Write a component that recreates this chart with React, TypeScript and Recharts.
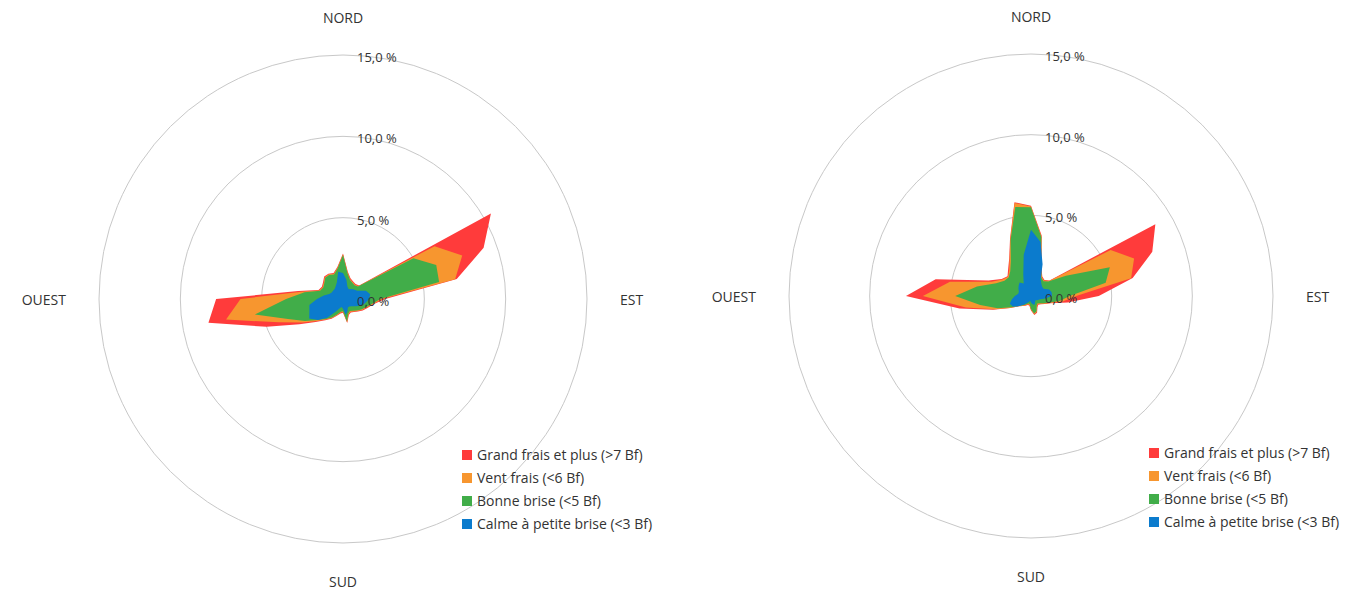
import React from "react";
import {
  RadarChart,
  PolarGrid,
  PolarAngleAxis,
  PolarRadiusAxis,
  Radar,
  Legend,
} from "recharts";

// 36 directions, every 10 degrees, clockwise from north
const directions = [
  0, 10, 20, 30, 40, 50, 60, 70, 80, 90, 100, 110, 120, 130, 140, 150, 160, 170,
  180, 190, 200, 210, 220, 230, 240, 250, 260, 270, 280, 290, 300, 310, 320, 330, 340, 350,
];
const cardinals: Record<number, string> = { 0: "NORD", 90: "EST", 180: "SUD", 270: "OUEST" };
const radiusTicks = [0, 5, 10, 15];

const seriesNames = [
  "Grand frais et plus (>7 Bf)",
  "Vent frais (<6 Bf)",
  "Bonne brise (<5 Bf)",
  "Calme à petite brise (<3 Bf)",
];
const seriesColors = ["#ff3b3b", "#f7962f", "#41ad49", "#0b7bcd"];
const seriesKeys = ["gf", "vf", "bb", "cb"];

// left rose, cumulative frequency (%)
const leftGrandFrais = [
  2.8, 1.7, 1.35, 1.25, 1.2, 1.3, 10.5, 9.2, 7.1, 2.6, 1.9, 1.6, 1.4, 1.2, 1.05, 0.95, 1.05, 1.5,
  0.85, 0.9, 1.1, 1.4, 1.7, 2.2, 3.1, 5.0, 8.4, 7.8, 2.8, 1.6, 1.5, 1.6, 1.8, 1.8, 1.7, 2.0,
];
const leftVentFrais = [
  2.75, 1.65, 1.3, 1.2, 1.15, 1.25, 6.5, 7.8, 7.0, 2.4, 1.85, 1.55, 1.35, 1.15, 1.0, 0.9, 1.0, 1.45,
  0.8, 0.85, 1.05, 1.35, 1.65, 2.1, 2.9, 4.2, 7.3, 6.3, 2.6, 1.55, 1.45, 1.55, 1.75, 1.75, 1.65, 1.95,
];
const leftBonneBrise = [
  2.7, 1.6, 1.25, 1.15, 1.1, 1.2, 5.0, 6.1, 6.0, 2.3, 1.8, 1.5, 1.3, 1.1, 0.95, 0.85, 0.95, 1.4,
  0.75, 0.8, 1.0, 1.3, 1.6, 2.0, 2.7, 3.6, 5.5, 3.5, 2.4, 1.5, 1.4, 1.5, 1.7, 1.7, 1.6, 1.9,
];
const leftCalme = [
  1.6, 1.2, 0.8, 0.7, 0.8, 0.9, 1.0, 1.5, 1.7, 1.6, 1.4, 1.2, 0.9, 0.7, 0.6, 0.6, 0.8, 1.0,
  0.6, 0.5, 0.6, 0.9, 1.5, 2.0, 2.4, 2.2, 2.1, 1.6, 1.2, 0.9, 0.8, 0.8, 0.8, 0.9, 1.1, 1.7,
];

// right rose, cumulative frequency (%)
const rightGrandFrais = [
  5.6, 3.8, 1.9, 1.4, 1.3, 1.5, 8.9, 8.0, 6.4, 4.2, 2.3, 1.3, 1.0, 0.8, 0.7, 0.8, 1.1, 1.2,
  0.9, 0.6, 0.6, 0.7, 0.8, 1.0, 1.5, 2.5, 4.5, 7.75, 6.0, 2.8, 2.1, 1.9, 2.2, 2.7, 3.8, 5.9,
];
const rightVentFrais = [
  5.55, 3.75, 1.85, 1.35, 1.25, 1.45, 5.7, 6.8, 6.3, 2.8, 2.0, 1.25, 0.95, 0.75, 0.65, 0.75, 1.05, 1.15,
  0.85, 0.55, 0.55, 0.65, 0.8, 1.0, 1.5, 2.4, 4.1, 6.7, 5.1, 2.6, 2.05, 1.85, 2.1, 2.65, 3.75, 5.85,
];
const rightBonneBrise = [
  5.5, 3.7, 1.8, 1.3, 1.2, 1.4, 2.5, 5.2, 4.7, 2.4, 1.8, 1.2, 0.9, 0.7, 0.6, 0.7, 1.0, 1.1,
  0.8, 0.5, 0.5, 0.6, 0.75, 0.95, 1.4, 2.2, 3.2, 4.7, 3.4, 2.3, 1.9, 1.8, 2.0, 2.5, 3.7, 5.6,
];
const rightCalme = [
  4.1, 3.4, 2.1, 1.2, 1.0, 0.9, 0.9, 1.2, 1.3, 1.3, 0.9, 0.6, 0.5, 0.4, 0.4, 0.5, 0.6, 0.5,
  0.4, 0.3, 0.4, 0.5, 0.7, 1.0, 1.3, 1.4, 1.2, 1.0, 0.8, 0.8, 0.9, 1.0, 1.1, 0.9, 1.4, 2.6,
];

const FONT = "'Open Sans', Lato, sans-serif";
const TEXT = "#333333";

const fmtPct = (v: number) => v.toFixed(1).replace(".", ",") + " %";

function makeAngleTick(cx: number, cy: number, r: number) {
  return (props: any) => {
    const d = props.payload.value;
    const label = cardinals[d];
    if (!label) return <g />;
    let x = cx;
    let y = cy;
    let anchor: "middle" | "start" | "end" = "middle";
    if (d === 0) y = cy - r - 38;
    if (d === 180) y = cy + r + 38;
    if (d === 90) {
      x = cx + r + 33;
      anchor = "start";
    }
    if (d === 270) {
      x = cx - r - 33;
      anchor = "end";
    }
    return (
      <text x={x} y={y} textAnchor={anchor} dominantBaseline="central" fontSize={14} fill={TEXT} fontFamily={FONT}>
        {label}
      </text>
    );
  };
}

const radiusTick = (props: any) => (
  <text x={props.x + 14} y={props.y + 2} dominantBaseline="central" fontSize={13} fill={TEXT} fontFamily={FONT}>
    {fmtPct(props.payload.value)}
  </text>
);

const legendContent = () => (
  <div style={{ fontFamily: FONT, fontSize: 14, color: TEXT }}>
    {seriesNames.map((name, i) => (
      <div key={name} style={{ display: "flex", alignItems: "center", height: 23, whiteSpace: "nowrap" }}>
        <span style={{ width: 10, height: 10, background: seriesColors[i], marginRight: 5, display: "inline-block" }} />
        {name}
      </div>
    ))}
  </div>
);

function WindRose({ left, width, cx, cy, r, series, legendX, legendY }: any) {
  const data = directions.map((d, i) => ({
    dir: d,
    gf: series[0][i],
    vf: series[1][i],
    bb: series[2][i],
    cb: series[3][i],
  }));
  return (
    <div style={{ position: "absolute", left, top: 0 }}>
      <RadarChart
        width={width}
        height={590}
        data={data}
        cx={cx}
        cy={cy}
        outerRadius={r}
        margin={{ top: 0, right: 0, bottom: 0, left: 0 }}
      >
        <PolarGrid gridType="circle" radialLines={false} stroke="#c8c8c8" />
        <PolarAngleAxis dataKey="dir" axisLine={false} tickLine={false} tick={makeAngleTick(cx, cy, r)} />
        <PolarRadiusAxis
          angle={90}
          type="number"
          domain={[0, 15]}
          ticks={radiusTicks}
          axisLine={false}
          tickLine={false}
          tick={radiusTick}
        />
        {seriesKeys.map((k, i) => (
          <Radar
            key={k}
            name={seriesNames[i]}
            dataKey={k}
            fill={seriesColors[i]}
            fillOpacity={1}
            stroke="none"
            isAnimationActive={false}
          />
        ))}
        <Legend content={legendContent} wrapperStyle={{ left: legendX, top: legendY, width: "auto" }} />
      </RadarChart>
    </div>
  );
}

export default function App() {
  return (
    <div style={{ position: "absolute", left: 0, top: 0, width: 1345, height: 590, background: "#fff" }}>
      <WindRose
        left={0}
        width={690}
        cx={343}
        cy={299}
        r={244}
        series={[leftGrandFrais, leftVentFrais, leftBonneBrise, leftCalme]}
        legendX={462}
        legendY={443}
      />
      <WindRose
        left={690}
        width={655}
        cx={341}
        cy={296}
        r={242}
        series={[rightGrandFrais, rightVentFrais, rightBonneBrise, rightCalme]}
        legendX={459}
        legendY={441}
      />
    </div>
  );
}
